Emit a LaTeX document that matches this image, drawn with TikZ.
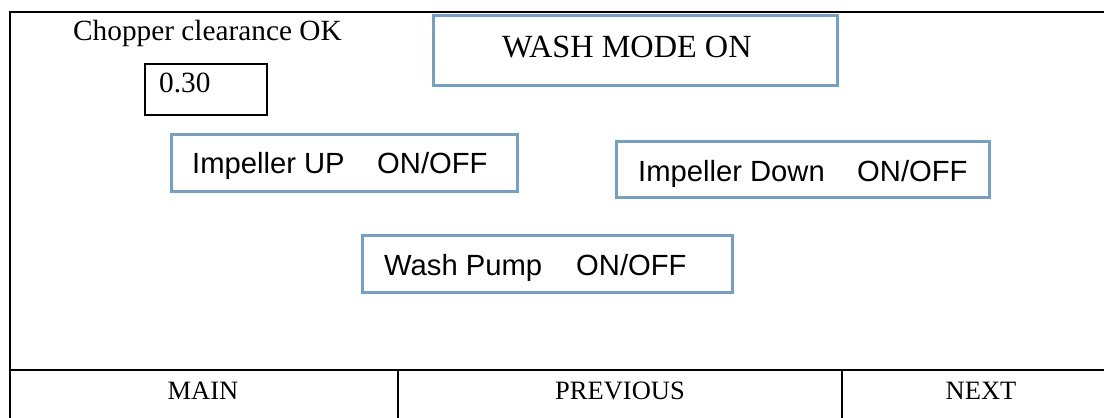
\documentclass[tikz,border=0pt]{standalone}
\usepackage{fontspec}
\setmainfont{Liberation Serif}
\newfontfamily\arialf{Liberation Sans}
\definecolor{bluebox}{HTML}{739FC8}
\begin{document}
\begin{tikzpicture}[x=1pt,y=-1pt,
 blue box/.style={draw=bluebox,line width=3pt,fill=white,inner sep=0pt},
 black box/.style={draw=black,line width=2pt,inner sep=0pt},
 frame line/.style={black,line width=2pt},
 lab/.style={inner sep=0pt,anchor=base west,font=\fontsize{29.3}{32}\selectfont},
 big lab/.style={inner sep=0pt,anchor=base west,font=\fontsize{32.3}{36}\selectfont},
 foot lab/.style={inner sep=0pt,anchor=base,font=\fontsize{26.5}{30}\selectfont},
 slab/.style={inner sep=0pt,anchor=base west,font=\arialf\fontsize{29.2}{32}\selectfont}]
\useasboundingbox (0,0) rectangle (1104,418);
\fill[white] (0,0) rectangle (1104,418);
\draw[frame line] (1104,12) -- (10,12) -- (10,418);
\draw[frame line] (10,370) -- (1104,370);
\draw[frame line] (398,370) -- (398,418);
\draw[frame line] (842,370) -- (842,418);
\node[black box,minimum width=122pt,minimum height=51pt] (v) at (206,89.5) {};
\node[lab] (vt) at (159,92) {0.30};
\node[lab] (c) at (73,40) {Chopper clearance OK};
\node[blue box,minimum width=404pt,minimum height=70pt] (w) at (635.5,50.5) {};
\node[big lab] (wt) at (502,57) {WASH MODE ON};
\node[blue box,minimum width=346pt,minimum height=57pt] (a) at (344.5,163) {};
\node[slab] (a1) at (192,173) {Impeller UP};
\node[slab] (a2) at (377,173) {ON/OFF};
\node[blue box,minimum width=373pt,minimum height=56pt] (b) at (803,169.5) {};
\node[slab] (b1) at (638,181) {Impeller Down};
\node[slab] (b2) at (857,181) {ON/OFF};
\node[blue box,minimum width=370pt,minimum height=57pt] (d) at (547.5,264) {};
\node[slab] (d1) at (384,275) {Wash Pump};
\node[slab] (d2) at (576,275) {ON/OFF};
\node[foot lab] (m) at (203,399) {MAIN};
\node[foot lab] (p) at (620,399) {PREVIOUS};
\node[foot lab] (n) at (981,399) {NEXT};
\end{tikzpicture}
\end{document}
